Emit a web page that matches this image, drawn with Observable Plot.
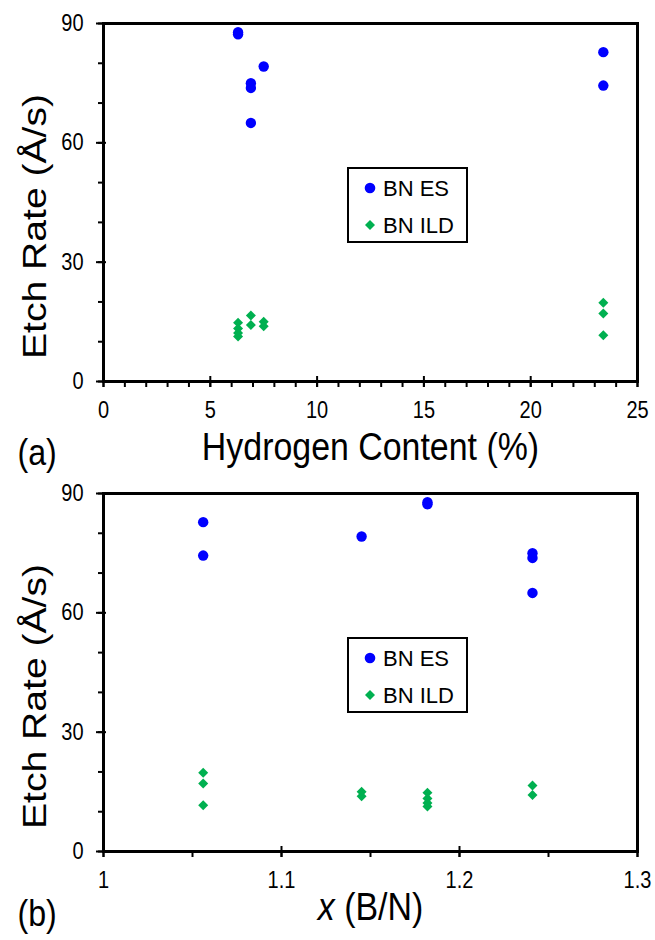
<!DOCTYPE html>
<html>
<head>
<meta charset="utf-8">
<script src="https://cdn.jsdelivr.net/npm/d3@7"></script>
<script src="https://cdn.jsdelivr.net/npm/@observablehq/plot@0.6"></script>
<style>
  html, body { margin: 0; padding: 0; background: #fff; }
  #wrap { position: relative; width: 655px; height: 940px; font-family: "Liberation Sans", Arial, sans-serif; }
  .panel { position: relative; width: 655px; }
  .panel svg { overflow: visible; }
  .legend { position: absolute; left: 347px; }
</style>
</head>
<body>
<div id="wrap">
  <div class="panel" id="pa"></div>
  <div class="panel" id="pb"></div>
</div>
<script>
// ---- data ----
const hydrogen = [6.3, 6.9, 7.5, 23.4];          // Hydrogen content (%) per sample
const ratioBN  = [1.182, 1.241, 1.145, 1.056];   // x (B/N) per sample
const esSample = [0, 0, 1, 1, 1, 2, 3, 3];
const esRate   = [87.8, 87.3, 75.0, 73.8, 65.0, 79.2, 82.8, 74.4];
const ildSample = [0, 0, 0, 0, 1, 1, 2, 2, 3, 3, 3];
const ildRate   = [14.8, 13.3, 12.2, 11.3, 16.6, 14.2, 15.0, 13.9, 19.8, 17.1, 11.6];
const seriesNames = ["BN ES", "BN ILD"];
const yAllTicks = [0, 10, 20, 30, 40, 50, 60, 70, 80, 90];
const yMajorTicks = [0, 30, 60, 90];
const hAllTicks = [0,1,2,3,4,5,6,7,8,9,10,11,12,13,14,15,16,17,18,19,20,21,22,23,24,25];
const hMajorTicks = [0, 5, 10, 15, 20, 25];
const xAllTicks = [1, 1.05, 1.1, 1.15, 1.2, 1.25, 1.3];
const xMajorTicks = [1, 1.1, 1.2, 1.3];
const yTitle = "Etch Rate (Å/s)";
const blue = "#0000FF", green = "#00B050";

const es = esRate.map((r, i) => ({h: hydrogen[esSample[i]], x: ratioBN[esSample[i]], rate: r}));
const ild = ildRate.map((r, i) => ({h: hydrogen[ildSample[i]], x: ratioBN[ildSample[i]], rate: r}));

function panel({key, domain, allTicks, majorTicks, title, tag, height, marginTop, marginBottom, titleDy, tagDy}) {
  return Plot.plot({
    width: 655, height, marginLeft: 103, marginRight: 18, marginTop, marginBottom,
    style: {fontFamily: "'Liberation Sans', Arial, sans-serif", background: "transparent", color: "black", overflow: "visible"},
    x: {domain, label: null},
    y: {domain: [0, 90], label: null},
    marks: [
      Plot.axisY({ticks: yAllTicks, tickSize: 5, tickFormat: () => "", strokeWidth: 2, label: null}),
      Plot.axisY({ticks: yMajorTicks, tickSize: 10, dx: 3, tickFormat: () => "", strokeWidth: 2, label: null}),
      Plot.axisY({ticks: yMajorTicks, tickSize: 0, tickPadding: 20, fontSize: 23, label: null}),
      Plot.axisX({ticks: allTicks, tickSize: 6, tickFormat: () => "", strokeWidth: 2, label: null}),
      Plot.axisX({ticks: majorTicks, tickSize: 11, dy: -5, tickFormat: () => "", strokeWidth: 2, label: null}),
      Plot.axisX({ticks: majorTicks, tickSize: 0, tickPadding: 20, fontSize: 23, label: null, tickFormat: d => String(d)}),
      Plot.dot(ild, {x: key, y: "rate", symbol: "diamond2", r: 4.5, fill: green}),
      Plot.dot(es, {x: key, y: "rate", r: 5.2, fill: blue}),
      Plot.text([yTitle], {text: d => d, frameAnchor: "left", textAnchor: "middle", rotate: -90, dx: -68, dy: 24, fontSize: 34}),
      Plot.text([title], {text: d => d, frameAnchor: "bottom", lineAnchor: "top", dy: titleDy, fontSize: 39}),
      Plot.text([tag], {text: d => d, frameAnchor: "bottom-left", textAnchor: "start", lineAnchor: "top", dx: -86, dy: tagDy, fontSize: 37}),
      Plot.frame({stroke: "black", strokeWidth: 3})
    ]
  });
}

function legendSvg(top) {
  const ns = "http://www.w3.org/2000/svg";
  const s = document.createElementNS(ns, "svg");
  s.setAttribute("width", 124); s.setAttribute("height", 78);
  s.setAttribute("class", "legend");
  s.style.top = top + "px";
  s.innerHTML = `
    <rect x="1" y="1" width="119" height="74" fill="white" stroke="black" stroke-width="2"/>
    <circle cx="23" cy="21" r="5.3" fill="${blue}"/>
    <path d="M23,53 L28,58 L23,63 L18,58 Z" fill="${green}"/>
    <text x="36" y="29" font-size="22" font-family="'Liberation Sans', Arial, sans-serif">${seriesNames[0]}</text>
    <text x="36" y="66" font-size="22" font-family="'Liberation Sans', Arial, sans-serif">${seriesNames[1]}</text>`;
  return s;
}

const pa = document.getElementById("pa");
const pb = document.getElementById("pb");
pa.append(panel({key: "h", domain: [0, 25], allTicks: hAllTicks, majorTicks: hMajorTicks,
  title: "Hydrogen Content (%)", tag: "(a)", height: 478, marginTop: 23, marginBottom: 97, titleDy: 51, tagDy: 57}));
pa.append(legendSvg(167));
pb.append(panel({key: "x", domain: [1, 1.3], allTicks: xAllTicks, majorTicks: xMajorTicks,
  title: "x (B/N)", tag: "(b)", height: 462, marginTop: 15, marginBottom: 89, titleDy: 41, tagDy: 48}));
pb.append(legendSvg(159));

// italic x in the bottom title
pb.querySelectorAll("text").forEach(t => {
  if (t.textContent === "x (B/N)") {
    t.textContent = "";
    const ns = "http://www.w3.org/2000/svg";
    const a = document.createElementNS(ns, "tspan"); a.setAttribute("font-style", "italic"); a.textContent = "x";
    const b = document.createElementNS(ns, "tspan"); b.textContent = " (B/N)";
    t.append(a, b);
  }
});

// reference text is drawn slightly taller than wide: narrow horizontal text, lengthen the rotated title
const stretch = 1.15;
document.querySelectorAll(".panel > svg:not(.legend) text").forEach(t => {
  if (!t.textContent) return;
  const sx = t.textContent === yTitle ? stretch : 1 / stretch;
  const x = +t.getAttribute("x") || 0, y = +t.getAttribute("y") || 0;
  const tr = t.getAttribute("transform") || "";
  t.setAttribute("transform", `${tr} translate(${x},${y}) scale(${sx},1) translate(${-x},${-y})`);
});
</script>
</body>
</html>
